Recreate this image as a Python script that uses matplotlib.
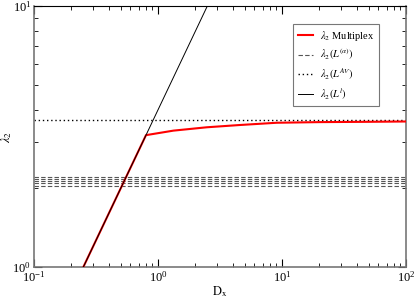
import matplotlib
matplotlib.use('Agg')
import matplotlib.pyplot as plt
from matplotlib.ticker import NullFormatter

plt.rcParams['font.family'] = ['Liberation Serif', 'DejaVu Serif']
plt.rcParams['mathtext.fontset'] = 'stix'

# lambda_2 multiplex
dx_multi = [0.1, 0.8, 1.33, 2.47, 4.58, 9.06, 20, 50, 100]
lam_multi = [0.4, 3.2, 3.33, 3.43, 3.50, 3.57, 3.59, 3.60, 3.61]

# individual layers (dashed)
lam_layers = [2.04, 2.09, 2.14, 2.18, 2.22]
# average laplacian (dotted)
lam_av = 3.67
# lambda_2(L^l) = 4 * D_x
dx_l = [0.1, 100]
lam_l = [0.4, 400]

fig = plt.figure(figsize=(4.15, 2.99), dpi=100)
ax = fig.add_axes([34/415, 32/299, 372/415, 261/299])

ax.plot(dx_multi, lam_multi, color='red', lw=1.5, label=r'$\lambda_2$ Multiplex', zorder=3)
for i, v in enumerate(lam_layers):
    ax.axhline(v, color='#555555', lw=0.8, ls=(0, (4, 2)),
               label=r'$\lambda_2(L^{(\alpha)})$' if i == 0 else None)
ax.axhline(lam_av, color='black', lw=1.0, ls=(0, (1, 2)), label=r'$\lambda_2(L^{AV})$')
ax.plot(dx_l, lam_l, color='black', lw=0.7, label=r'$\lambda_2(L^{l})$', zorder=4)

ax.set_xscale('log')
ax.set_yscale('log')
ax.set_xlim(0.1, 100)
ax.set_ylim(1, 10)
ax.yaxis.set_minor_formatter(NullFormatter())
ax.xaxis.set_minor_formatter(NullFormatter())

ax.tick_params(which='both', direction='in', top=True, right=True, labelsize=9, pad=2)
ax.tick_params(which='major', length=6, width=0.8)
ax.tick_params(which='minor', length=3, width=0.6)

for s in ['left', 'right', 'bottom']:
    ax.spines[s].set_color('#777777')
    ax.spines[s].set_linewidth(1.2)
ax.spines['top'].set_color('black')

ax.set_xlabel(r'$\mathrm{D_x}$', fontsize=9, labelpad=0)
ax.set_ylabel(r'$\lambda_2$', fontsize=9)
ax.yaxis.set_label_coords(-20 / 372, 0.5)

leg = ax.legend(loc='upper right', bbox_to_anchor=((379 - 34) / 372, (267 - 24) / 261),
                fontsize=7.5, frameon=True, fancybox=False, edgecolor='#555555',
                handlelength=1.4, handletextpad=0.7, borderpad=0.45,
                labelspacing=0.4, borderaxespad=0)
leg.get_frame().set_linewidth(0.8)

fig.savefig('out.png', dpi=100)
